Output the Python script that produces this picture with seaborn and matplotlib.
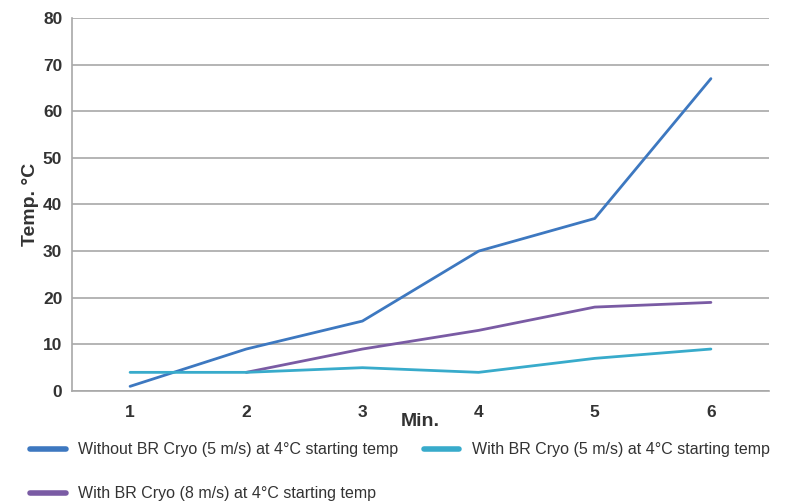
import numpy as np
import pandas as pd
import matplotlib
matplotlib.use("Agg")
import matplotlib.pyplot as plt
import seaborn as sns

minutes = [1, 2, 3, 4, 5, 6]
without_5 = [1, 9, 15, 30, 37, 67]
with_5 = [4, 4, 5, 4, 7, 9]
with_8 = [np.nan, 4, 9, 13, 18, 19]

labels = ["Without BR Cryo (5 m/s) at 4°C starting temp",
          "With BR Cryo (5 m/s) at 4°C starting temp",
          "With BR Cryo (8 m/s) at 4°C starting temp"]
colors = ["#3d78c0", "#38abcb", "#7a5ba4"]

frames = []
for lab, vals in zip(labels, [without_5, with_5, with_8]):
    frames.append(pd.DataFrame({"Min": minutes, "Temp": vals, "series": lab}))
df = pd.concat(frames).dropna()

sns.set_style("white")
plt.rcParams["font.family"] = ["Liberation Sans", "DejaVu Sans"]

fig = plt.figure(figsize=(7.9, 5.01), dpi=100)
ax = fig.add_axes([72/790, 1-391/501, (769-72)/790, (391-18)/501])

order = [labels[0], labels[2], labels[1]]
sns.lineplot(data=df, x="Min", y="Temp", hue="series", hue_order=order,
             palette=dict(zip(labels, colors)), linewidth=2.0, ax=ax,
             estimator=None, sort=False, legend=False)

ax.set_xlim(0.5, 6.5)
ax.set_ylim(0, 80)
ax.set_yticks(range(0, 81, 10))
ax.set_xticks(minutes)
ax.set_xticks(np.arange(0.5, 7, 1.0), minor=True)
ax.yaxis.grid(True, color="#a8a8a8", linewidth=1.2)
ax.set_axisbelow(True)
for s in ["top", "right"]:
    ax.spines[s].set_visible(False)
for s in ["left", "bottom"]:
    ax.spines[s].set_color("#a8a8a8")
    ax.spines[s].set_linewidth(1.2)

ax.tick_params(axis="x", which="major", length=0, pad=10, labelsize=12.5, labelcolor="#333333")
ax.tick_params(axis="x", which="minor", length=4, color="#a8a8a8", width=1)
ax.tick_params(axis="y", length=3, color="#a8a8a8", pad=4, labelsize=12.5, labelcolor="#333333")
for t in ax.get_xticklabels() + ax.get_yticklabels():
    t.set_fontweight("bold")

ax.set_xlabel("Min.", fontsize=14, fontweight="bold", color="#333333", va="center")
ax.xaxis.set_label_coords(0.5, -0.083)
ax.set_ylabel("Temp. °C", fontsize=14, fontweight="bold", color="#333333", va="center")
ax.yaxis.set_label_coords(-0.06, 0.5)

handles = [plt.Line2D([], [], color=c, linewidth=4) for c in colors]
leg_order = [0, 2, 1]
fig.legend([handles[i] for i in leg_order], [labels[i] for i in leg_order],
           loc="upper left", bbox_to_anchor=(16/790, 1-428/501), ncol=2,
           frameon=False, fontsize=11.5, handlelength=2.2, handletextpad=0.8,
           labelspacing=1.8, columnspacing=1.6, labelcolor="#333333")

fig.savefig("out.png", dpi=100)
